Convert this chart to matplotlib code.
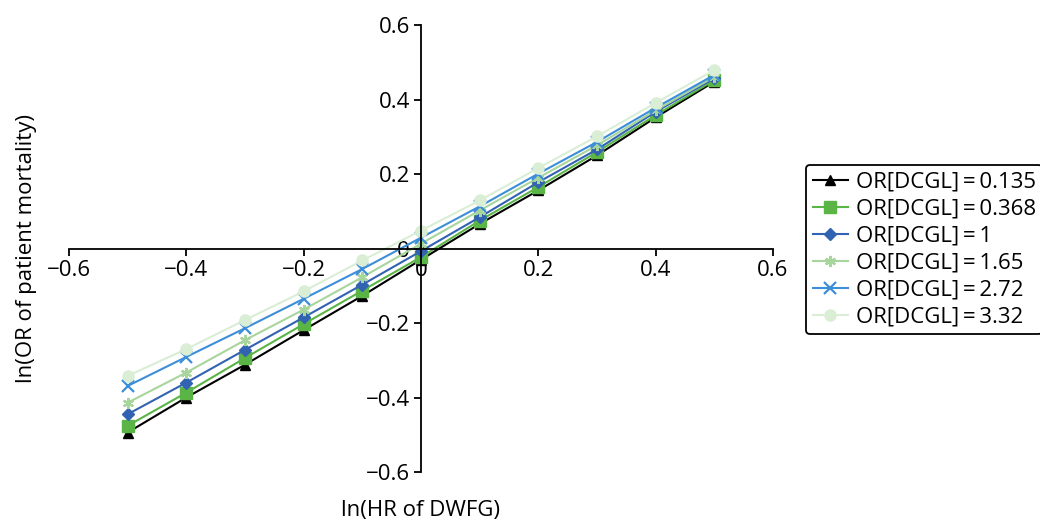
import matplotlib
matplotlib.use('Agg')
import matplotlib.pyplot as plt
from matplotlib.ticker import FixedLocator, FuncFormatter

plt.rcParams['font.family'] = ['Open Sans', 'DejaVu Sans']
plt.rcParams['font.size'] = 16

# ln(HR of DWFG)
x = [-0.5, -0.4, -0.3, -0.2, -0.1, 0.0, 0.1, 0.2, 0.3, 0.4, 0.5]

# ln(OR of patient mortality), one list per OR[DCGL] value
y_0135 = [-0.494, -0.400, -0.312, -0.219, -0.127, -0.030, 0.066, 0.156, 0.250, 0.352, 0.448]
y_0368 = [-0.476, -0.387, -0.294, -0.203, -0.113, -0.023, 0.075, 0.165, 0.259, 0.358, 0.452]
y_1 = [-0.445, -0.360, -0.272, -0.185, -0.097, -0.007, 0.084, 0.178, 0.266, 0.367, 0.457]
y_165 = [-0.414, -0.333, -0.246, -0.164, -0.077, 0.013, 0.102, 0.190, 0.277, 0.371, 0.461]
y_272 = [-0.369, -0.291, -0.214, -0.135, -0.055, 0.029, 0.113, 0.201, 0.286, 0.378, 0.466]
y_332 = [-0.342, -0.270, -0.192, -0.115, -0.032, 0.048, 0.129, 0.216, 0.301, 0.391, 0.479]

eq = '\u2009=\u2009'
labels = ['OR[DCGL]' + eq + '0.135', 'OR[DCGL]' + eq + '0.368', 'OR[DCGL]' + eq + '1',
          'OR[DCGL]' + eq + '1.65', 'OR[DCGL]' + eq + '2.72', 'OR[DCGL]' + eq + '3.32']

ticks = [-0.6, -0.4, -0.2, 0, 0.2, 0.4, 0.6]

series = [y_0135, y_0368, y_1, y_165, y_272, y_332]
colors = ['#000000', '#5ab446', '#3262b2', '#a8d59c', '#3d8ed9', '#d9eed5']
markers = ['^', 's', 'D', (6, 2, 0), 'x', 'o']
sizes = [7, 8, 6, 8, 8, 8]

fig = plt.figure(figsize=(10.4, 5.2), dpi=100)
ax = fig.add_axes([0.0663, 0.0923, 0.677, 0.8596])

for ys, c, m, s, lab in zip(series, colors, markers, sizes, labels):
    ax.plot(x, ys, color=c, marker=m, markersize=s, linewidth=1.5,
            markeredgewidth=1.6 if m in ('x', (6, 2, 0)) else 1, label=lab)

ax.set_xlim(-0.6, 0.6)
ax.set_ylim(-0.6, 0.6)

ax.spines['left'].set_position(('data', 0))
ax.spines['bottom'].set_position(('data', 0))
ax.spines['right'].set_visible(False)
ax.spines['top'].set_visible(False)
for sp in ('left', 'bottom'):
    ax.spines[sp].set_linewidth(1.3)

fmt = FuncFormatter(lambda v, p: '0' if abs(v) < 1e-9 else f'{v:.1f}'.replace('-', '\u2212'))
ax.xaxis.set_major_locator(FixedLocator(ticks))
ax.yaxis.set_major_locator(FixedLocator(ticks))
ax.xaxis.set_major_formatter(fmt)
ax.yaxis.set_major_formatter(fmt)
ax.tick_params(direction='out', length=5, width=1.3, labelsize=16, pad=3)

ax.set_xlabel('ln(HR of DWFG)')
ax.set_ylabel('ln(OR of patient mortality)')
ax.xaxis.set_label_coords(0.5, -0.062)
ax.yaxis.set_label_coords(-0.045, 0.5)

leg = fig.legend(loc='center left', bbox_to_anchor=(0.775, 0.52), frameon=True,
                 fancybox=True, edgecolor='black', framealpha=1,
                 handlelength=1.6, handletextpad=0.35, labelspacing=0.27,
                 borderpad=0.3, borderaxespad=0, fontsize=16)
leg.get_frame().set_linewidth(1.3)

fig.savefig('out.png', dpi=100)
